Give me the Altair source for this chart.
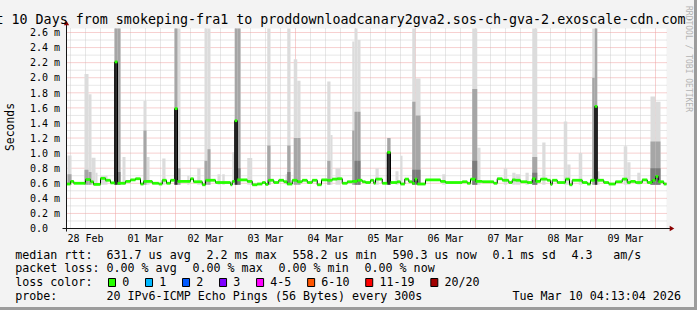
import altair as alt
import pandas as pd

# ---------------- canvas layout (pixels) ----------------
CANVAS_W, CANVAS_H = 697, 310
L, T = 66.5, 28.5          # graph-area origin on the canvas
W, H = 600, 200            # graph area
X_END = 240.0              # hours shown (10 days)
Y_TOP = 2.653              # ms at top of graph area
FONT = "DejaVu Sans Mono"

# ---------------- data ----------------
# median rtt (step changes): hours since graph start, value in ms
med_h = [0, 1.6, 2.9, 7.6, 9.6, 10.8, 13.6, 15.6, 17.6, 19.3,
         20.4, 23.6, 25.6, 27.6, 29.6, 30.8, 34.3, 36.9, 38.3, 40.0,
         41.6, 43.3, 44.4, 49.6, 50.8, 54.3, 55.6, 59.6, 65.6, 66.3,
         67.3, 68.3, 72.3, 74.3, 76.3, 78.3, 79.6, 80.7, 82.9, 84.9,
         86.9, 88.3, 90.3, 92.3, 94.3, 96.3, 98.3, 100.3, 102.0, 104.3,
         106.3, 108.3, 110.3, 112.3, 114.3, 116.3, 118.3, 119.6, 121.6, 122.9,
         123.6, 126.3, 128.3, 129.6, 132.3, 133.6, 135.3, 136.9, 138.3, 139.3,
         140.3, 143.6, 149.6, 151.6, 158.3, 160.3, 161.6, 163.6, 166.3, 170.9,
         172.3, 174.3, 176.9, 178.3, 179.6, 181.6, 184.3, 186.3, 187.6, 189.6,
         192.3, 193.6, 194.3, 196.3, 199.6, 201.2, 202.3, 206.3, 208.3, 209.6,
         211.3, 212.3, 214.9, 216.9, 219.6, 222.3, 224.3, 225.6, 227.6, 230.3,
         232.3, 234.3, 235.6, 236.7, 238.9]
med_v = [0.59, 0.625, 0.60, 0.65, 0.62, 0.585, 0.665, 0.64, 0.605, 2.21,
         0.60, 0.625, 0.645, 0.66, 0.59, 0.625, 0.60, 0.59, 0.64, 0.60,
         0.64, 1.59, 0.625, 0.66, 0.62, 0.58, 0.64, 0.61, 0.58, 0.625,
         1.43, 0.645, 0.625, 0.58, 0.59, 0.61, 0.585, 0.64, 0.61, 0.64,
         0.62, 0.59, 0.64, 0.62, 0.64, 0.61, 0.64, 0.58, 0.645, 0.64,
         0.655, 0.66, 0.60, 0.62, 0.625, 0.64, 0.62, 0.61, 0.64, 0.60,
         0.655, 0.60, 1.01, 0.61, 0.62, 0.59, 0.655, 0.62, 0.60, 0.655,
         0.59, 0.645, 0.625, 0.61, 0.62, 0.60, 0.655, 0.625, 0.62, 0.60,
         0.66, 0.64, 0.61, 0.645, 0.64, 0.62, 0.61, 0.66, 0.625, 0.655,
         0.64, 0.585, 0.64, 0.61, 0.655, 0.58, 0.64, 0.61, 0.59, 0.64,
         1.62, 0.64, 0.61, 0.59, 0.62, 0.655, 0.61, 0.625, 0.61, 0.645,
         0.61, 0.64, 0.69, 0.62, 0.59]

# smoke (ping spread) columns: start/end hour, light top, mid top, dark top (ms; 0 = none)
sm_h0 = [0.4, 7.2, 8.8, 10.0, 11.6, 13.6, 19.2, 20.4, 22.4, 30.8,
         32.0, 38.3, 43.2, 44.4, 48.3, 52.3, 55.2, 56.4, 60.4, 62.3,
         66.3, 67.3, 68.4, 72.3, 80.3, 87.6, 88.3, 90.9, 92.3, 104.3,
         105.6, 107.6, 114.3, 115.2, 116.4, 123.6, 128.3, 131.6, 133.6, 138.3,
         139.6, 150.3, 162.3, 164.3, 174.9, 178.3, 179.6, 183.6, 186.3, 190.3,
         198.9, 200.3, 204.9, 210.3, 211.3, 212.3, 222.9, 224.3, 228.3, 233.6,
         235.6]
sm_h1 = [2.0, 8.8, 10.0, 11.6, 12.4, 16.4, 20.4, 21.6, 23.6, 32.0,
         33.2, 39.6, 44.4, 45.6, 49.2, 53.6, 56.4, 57.6, 61.6, 63.3,
         67.3, 68.4, 69.6, 74.3, 81.6, 88.3, 89.6, 92.3, 93.6, 105.6,
         106.4, 109.6, 115.2, 116.4, 117.6, 124.9, 129.6, 132.8, 134.4, 139.6,
         141.6, 151.6, 164.3, 165.6, 176.3, 179.6, 181.6, 184.9, 188.3, 191.6,
         200.3, 201.6, 206.3, 211.3, 212.3, 213.2, 224.3, 225.6, 229.6, 235.6,
         237.6]
sm_hi = [0.97, 2.05, 1.78, 0.94, 0.74, 0.70, 2.7, 2.7, 0.95, 1.69,
         0.95, 0.93, 2.7, 2.7, 0.70, 0.80, 2.7, 2.7, 0.72, 0.72,
         1.01, 2.7, 2.7, 0.935, 2.7, 0.72, 2.7, 2.245, 1.96, 1.95,
         1.24, 0.80, 2.48, 2.7, 2.5, 0.80, 1.2, 0.76, 0.965, 2.7,
         1.99, 0.72, 2.7, 1.07, 0.80, 0.74, 0.72, 0.74, 2.7, 1.14,
         1.42, 0.85, 1.0, 2.7, 2.7, 0.76, 1.09, 0.88, 0.74, 1.75,
         1.68]
sm_mid = [0.72, 0.78, 0.75, 0, 0, 0, 2.7, 2.7, 0, 1.3,
          0, 0, 2.7, 0.8, 0, 0, 0.9, 1.05, 0, 0,
          0, 2.7, 2.7, 0, 1.1, 0, 1.1, 1.2, 1.2, 0.9,
          0, 0, 1.3, 1.55, 1.55, 0, 1.2, 0, 0, 1.68,
          1.5, 0, 1.85, 0, 0, 0, 0, 0, 0.95, 0,
          0, 0, 0, 2.0, 2.7, 0, 0, 0, 0, 1.155,
          1.155]
sm_dark = [0, 0, 0, 0, 0, 0, 2.21, 0.75, 0, 0,
           0, 0, 1.59, 0, 0, 0, 0, 0, 0, 0,
           0, 1.43, 0.8, 0, 0, 0, 0.75, 0, 0, 0,
           0, 0, 0, 0.9, 0.9, 0, 1.01, 0, 0, 0.78,
           0.78, 0, 0.9, 0, 0, 0, 0, 0, 0.74, 0,
           0, 0, 0, 0, 1.62, 0, 0, 0, 0, 0.8,
           0.8]
SMOKE_FLOOR = 0.58

# axis ticks / labels
y_major = [0.2, 0.4, 0.6, 0.8, 1.0, 1.2, 1.4, 1.6, 1.8, 2.0, 2.2, 2.4, 2.6]
y_minor = [0.1, 0.3, 0.5, 0.7, 0.9, 1.1, 1.3, 1.5, 1.7, 1.9, 2.1, 2.3, 2.5]
y_label_vals = [0.0, 0.2, 0.4, 0.6, 0.8, 1.0, 1.2, 1.4, 1.6, 1.8, 2.0, 2.2, 2.4, 2.6]
y_label_txt = ["0.0", "0.2 m", "0.4 m", "0.6 m", "0.8 m", "1.0 m", "1.2 m",
               "1.4 m", "1.6 m", "1.8 m", "2.0 m", "2.2 m", "2.4 m", "2.6 m"]
day_labels = ["28 Feb", "01 Mar", "02 Mar", "03 Mar", "04 Mar",
              "05 Mar", "06 Mar", "07 Mar", "08 Mar", "09 Mar"]
FIRST_MIDNIGHT_H = 19.6

title_txt = ("Last 10 Days from smokeping-fra1 to "
             "proddownloadcanary2gva2.sos-ch-gva-2.exoscale-cdn.com-ipv6")
row1 = ["median rtt:", "631.7 us avg", "2.2 ms max", "558.2 us min",
        "590.3 us now", "0.1 ms sd", "4.3", "am/s"]
row1_x = [16, 107.3, 207.3, 293.3, 393.3, 493.3, 572.3, 614]
row2 = ["packet loss:", "0.00 % avg", "0.00 % max", "0.00 % min", "0.00 % now"]
row2_x = [16, 107.3, 193.3, 279.3, 365.3]
row4 = ["probe:", "20 IPv6-ICMP Echo Pings (56 Bytes) every 300s",
        "Tue Mar 10 04:13:04 2026"]
row4_x = [16, 107.3, 513.3]
loss_labels = ["0", "1", "2", "3", "4-5", "6-10", "11-19", "20/20"]
loss_colors = ["#26ff00", "#00b8ff", "#0059ff", "#7e00ff",
               "#ff00ff", "#ff5500", "#ff0000", "#a10000"]

# ---------------- helpers ----------------
xs = alt.Scale(domain=[0, X_END], nice=False, zero=False)
ys = alt.Scale(domain=[0, Y_TOP], nice=False, zero=False)
one = pd.DataFrame({"a": [0]})
CW = 7.02  # legend char advance


def px(cx):
    return cx - L


def py(cy):
    return cy - T


def text_layer(txts, xs_c, ys_c, size, align="left", baseline="alphabetic",
               color="black", angle=0):
    df = pd.DataFrame({"t": txts, "x": [px(v) for v in xs_c], "y": [py(v) for v in ys_c]})
    kw = dict(align=align, baseline=baseline, font=FONT, fontSize=size, color=color)
    if angle:
        kw["angle"] = angle
    return alt.Chart(df).mark_text(**kw).encode(
        x=alt.X("x:Q", scale=None, axis=None),
        y=alt.Y("y:Q", scale=None, axis=None),
        text="t:N")


layers = []

# grid
mid_h = [FIRST_MIDNIGHT_H + 24 * k for k in range(10)]
six_h = [FIRST_MIDNIGHT_H + 6 * k for k in range(-3, 37) if k % 4 != 0]
six_h = [h for h in six_h if 0 < h < X_END]
layers.append(alt.Chart(pd.DataFrame({"v": y_minor})).mark_rule(
    color="#cfcfcf", strokeDash=[1, 1], strokeWidth=1).encode(y=alt.Y("v:Q", scale=ys, axis=None)))
layers.append(alt.Chart(pd.DataFrame({"h": six_h})).mark_rule(
    color="#cfcfcf", strokeDash=[1, 1], strokeWidth=1).encode(x=alt.X("h:Q", scale=xs, axis=None)))
layers.append(alt.Chart(pd.DataFrame({"v": y_major})).mark_rule(
    color="#eea0a0", strokeDash=[1, 1], strokeWidth=1).encode(y=alt.Y("v:Q", scale=ys, axis=None)))
layers.append(alt.Chart(pd.DataFrame({"h": mid_h})).mark_rule(
    color="#eea0a0", strokeDash=[1, 1], strokeWidth=1).encode(x=alt.X("h:Q", scale=xs, axis=None)))

# smoke
sm = pd.DataFrame({"h0": sm_h0, "h1": sm_h1, "hi": sm_hi, "mid": sm_mid, "dark": sm_dark})
sm["lo"] = SMOKE_FLOOR
core = sm["dark"] > 0.95     # columns where the median itself went up
for d, col, colr in [(sm[sm["hi"] > SMOKE_FLOOR], "hi", "#dcdcdc"),
                     (sm[sm["mid"] > SMOKE_FLOOR], "mid", "#a6a6a6"),
                     (sm[(sm["dark"] > SMOKE_FLOOR) & ~core], "dark", "#7c7c7c"),
                     (sm[core], "dark", "#2e2e2e")]:
    layers.append(alt.Chart(d).mark_rect(color=colr, clip=True).encode(
        x=alt.X("h0:Q", scale=xs, axis=None), x2="h1:Q",
        y=alt.Y("lo:Q", scale=ys, axis=None), y2=f"{col}:Q"))

# median
line_df = pd.DataFrame({"h": med_h + [X_END], "v": med_v + [med_v[-1]]})
layers.append(alt.Chart(line_df).mark_line(interpolate="step-after", color="black", strokeWidth=1).encode(
    x=alt.X("h:Q", scale=xs, axis=None), y=alt.Y("v:Q", scale=ys, axis=None)))
seg_df = pd.DataFrame({"h0": med_h, "h1": med_h[1:] + [X_END], "v": med_v})
layers.append(alt.Chart(seg_df).mark_rule(color="#26ff00", strokeWidth=2.8).encode(
    x=alt.X("h0:Q", scale=xs, axis=None), x2="h1:Q", y=alt.Y("v:Q", scale=ys, axis=None)))

# axes
layers.append(alt.Chart(one).mark_rule(color="#151515", strokeWidth=1).encode(
    x=alt.value(0), y=alt.value(H + 3), y2=alt.value(-6)))
layers.append(alt.Chart(one).mark_rule(color="#151515", strokeWidth=1).encode(
    y=alt.value(H), x=alt.value(-4), x2=alt.value(W + 4)))
layers.append(alt.Chart(one).mark_point(shape="triangle-up", filled=True, color="#8b0000",
                                         size=28, opacity=1).encode(x=alt.value(0), y=alt.value(-5.5)))
layers.append(alt.Chart(one).mark_point(shape="triangle-right", filled=True, color="#8b0000",
                                         size=28, opacity=1).encode(x=alt.value(W + 5.5), y=alt.value(H)))

# axis labels
layers.append(alt.Chart(pd.DataFrame({"v": y_label_vals, "t": y_label_txt})).mark_text(
    align="left", baseline="alphabetic", dy=3.7, font=FONT, fontSize=10, color="black").encode(
    y=alt.Y("v:Q", scale=ys, axis=None), x=alt.value(px(29.9)), text="t:N"))
noon_h = [FIRST_MIDNIGHT_H - 12 + 24 * i for i in range(len(day_labels))]
layers.append(alt.Chart(pd.DataFrame({"h": noon_h, "t": day_labels})).mark_text(
    align="center", baseline="alphabetic", font=FONT, fontSize=10, color="black").encode(
    x=alt.X("h:Q", scale=xs, axis=None), y=alt.value(py(242)), text="t:N"))

# title, unit label, watermark
layers.append(text_layer([title_txt], [-28.6], [24], 13.34))
layers.append(text_layer(["Seconds"], [11], [127], 11.4, align="center", baseline="middle", angle=270))
layers.append(text_layer(["RRDTOOL / TOBI OETIKER"], [688], [59], 8, align="center",
                         baseline="middle", color="#b4b4b4", angle=90))

# legend rows
layers.append(text_layer(row1, [v - 0.8 for v in row1_x], [258.5] * len(row1), 11.67))
layers.append(text_layer(row2, [v - 0.8 for v in row2_x], [272.3] * len(row2), 11.67))
layers.append(text_layer(row4, [v - 0.8 for v in row4_x], [300.0] * len(row4), 11.67))
layers.append(text_layer(["loss color:"], [15.2], [286.1], 11.67))

box_x = []
cur = 108.0
for lab in loss_labels:
    box_x.append(cur)
    cur += 30 + CW * len(lab)
sw = pd.DataFrame({"x0": [px(b + 0.5) for b in box_x], "x1": [px(b + 7.5) for b in box_x],
                   "y0": [py(278.5)] * 8, "y1": [py(286.5)] * 8, "c": loss_colors})
layers.append(alt.Chart(sw).mark_rect(stroke="black", strokeWidth=1).encode(
    x=alt.X("x0:Q", scale=None, axis=None), x2="x1:Q",
    y=alt.Y("y0:Q", scale=None, axis=None), y2="y1:Q",
    color=alt.Color("c:N", scale=None, legend=None)))
layers.append(text_layer(loss_labels, [b + 15 - 0.8 for b in box_x], [286.1] * 8, 11.67))

# canvas shade (bottom / right)
layers.append(alt.Chart(one).mark_rect(color="#9c9c9c").encode(
    x=alt.value(px(0)), x2=alt.value(px(CANVAS_W)), y=alt.value(py(307)), y2=alt.value(py(CANVAS_H))))
layers.append(alt.Chart(one).mark_rect(color="#9c9c9c").encode(
    x=alt.value(px(694)), x2=alt.value(px(CANVAS_W)), y=alt.value(py(0)), y2=alt.value(py(CANVAS_H))))

chart = alt.layer(*layers).resolve_scale(x="independent", y="independent").properties(
    width=W, height=H,
    padding={"left": L, "top": T, "right": CANVAS_W - L - W, "bottom": CANVAS_H - T - H},
    autosize=alt.AutoSizeParams(type="none"),
    background="#f3f3f3",
).configure_view(fill="white", stroke=None)

chart.save("out.html", embed_options={"renderer": "svg", "actions": False})
